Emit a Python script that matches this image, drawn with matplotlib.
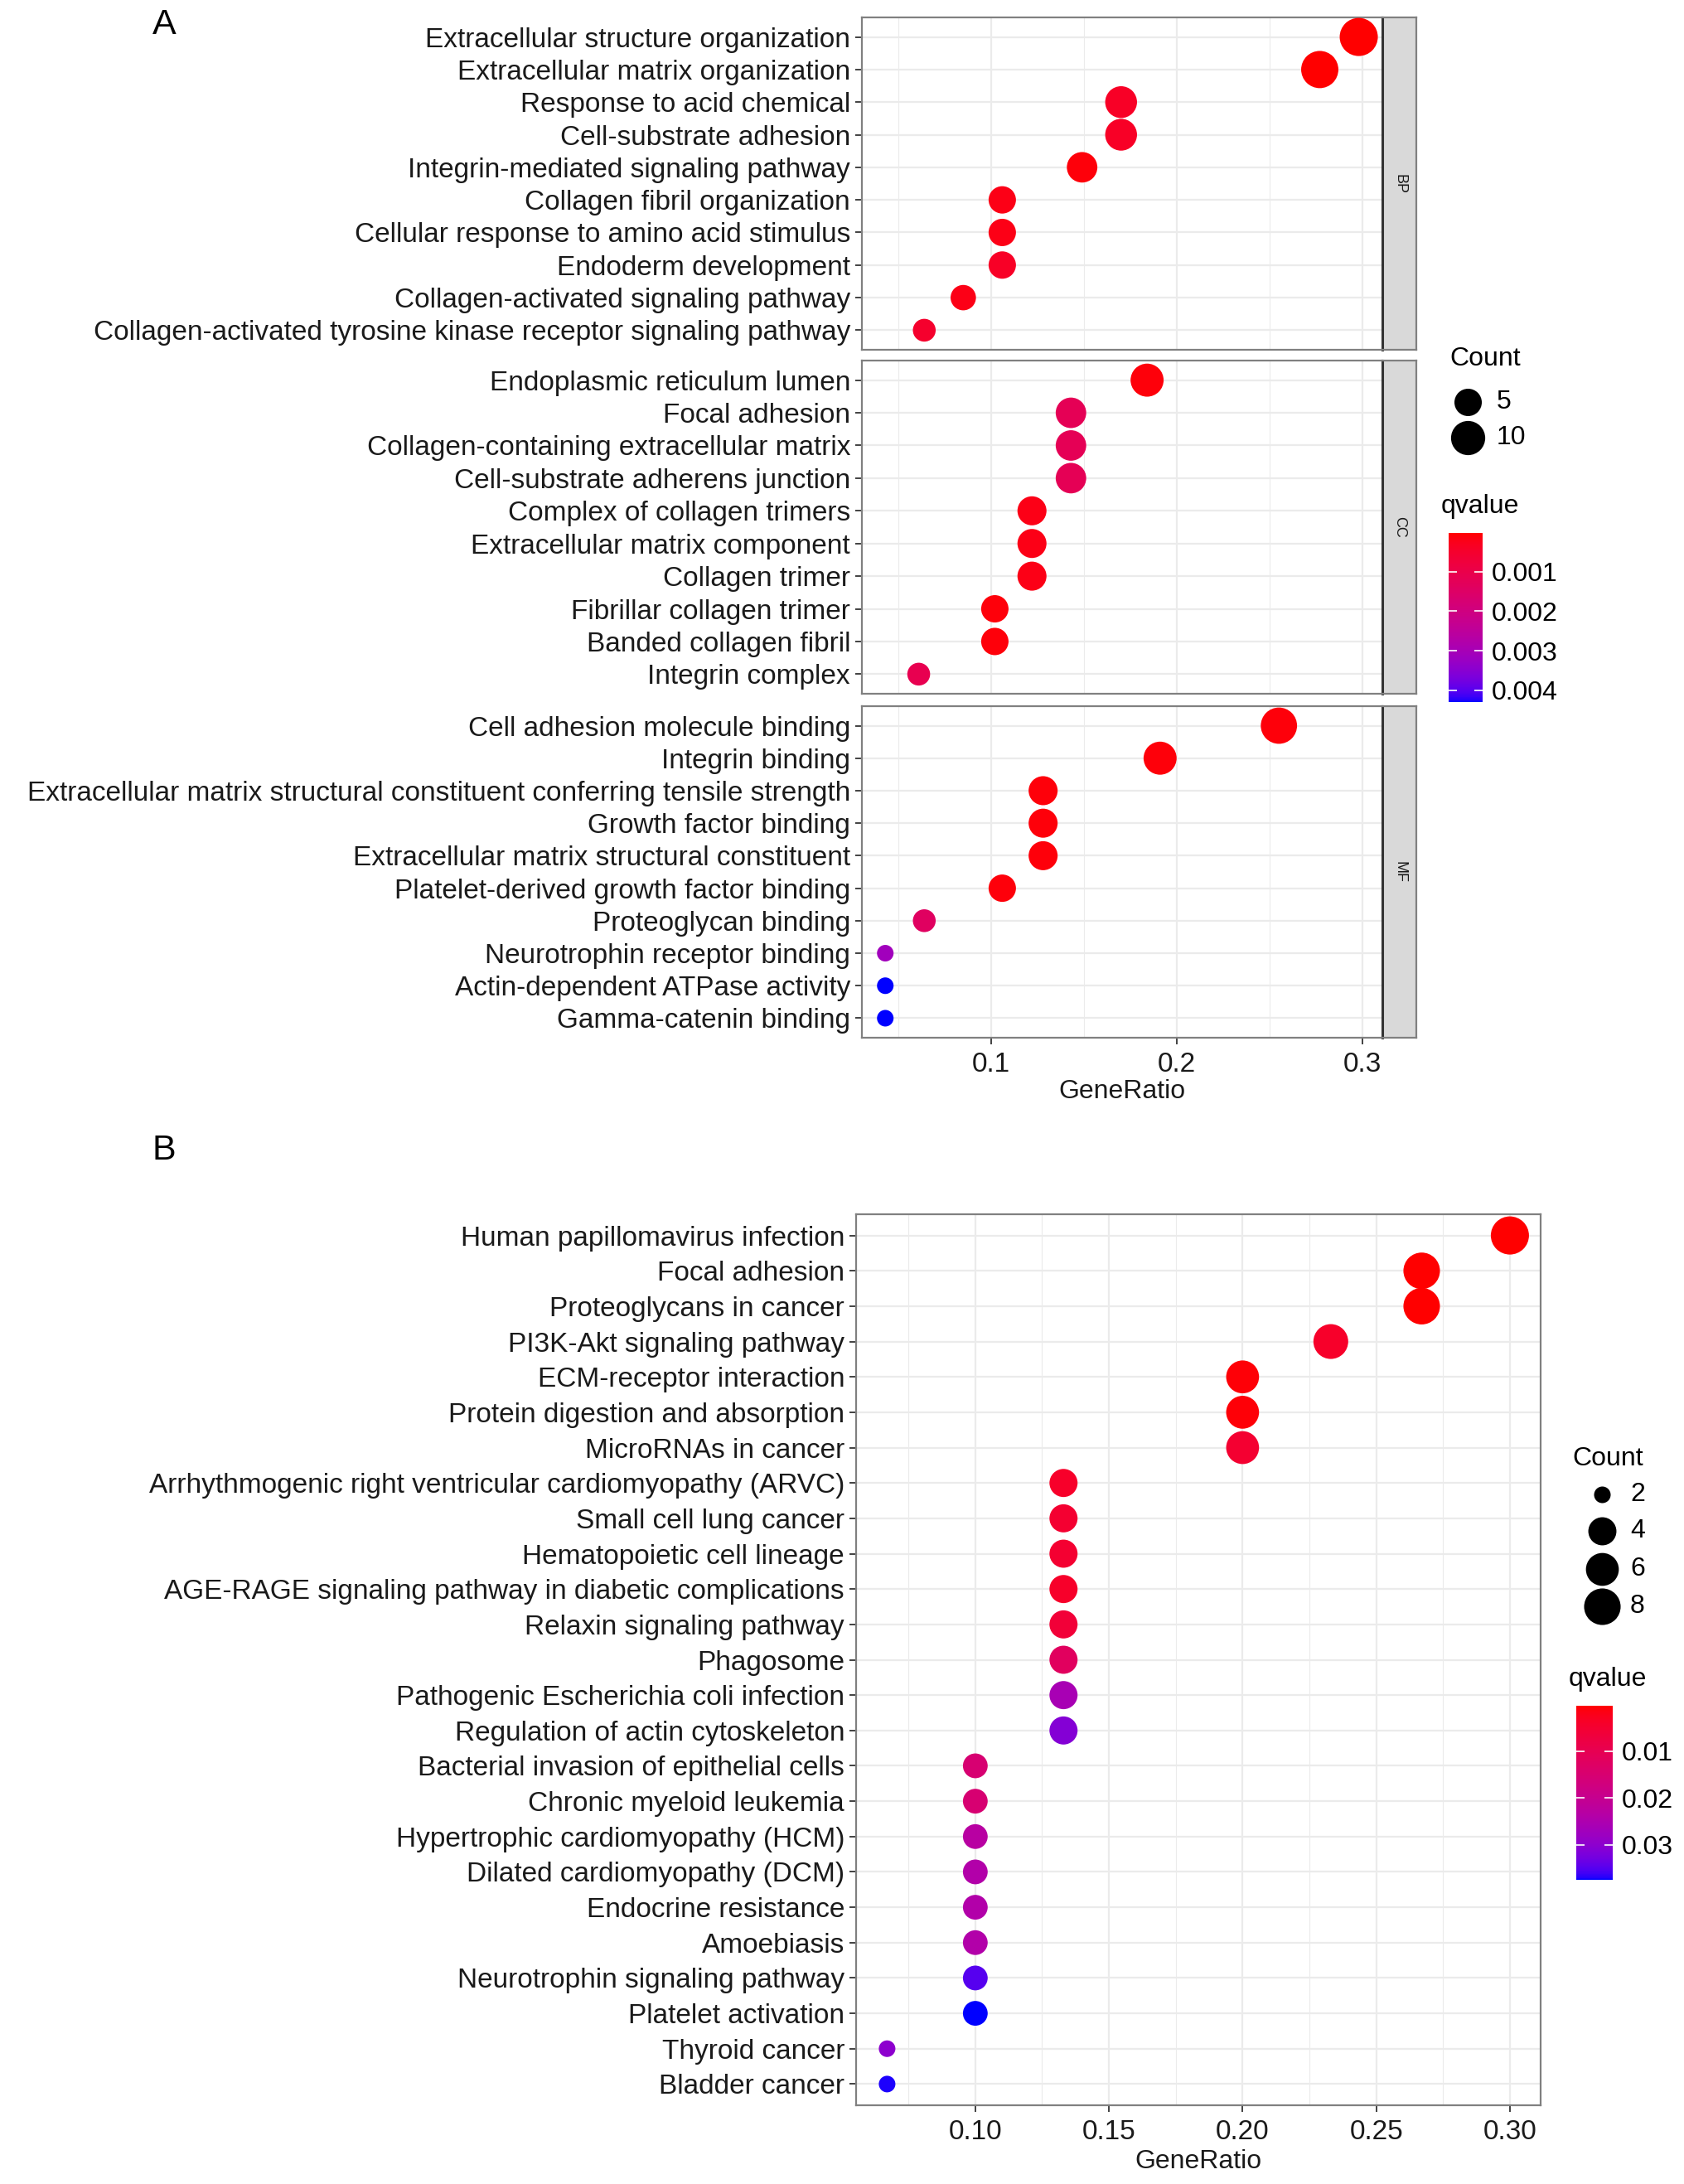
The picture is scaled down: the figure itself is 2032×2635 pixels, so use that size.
import numpy as np
import matplotlib
matplotlib.use('Agg')
import matplotlib.pyplot as plt
from matplotlib.colors import ListedColormap, Normalize
import matplotlib.cm as cm

plt.rcParams['font.family'] = ['Liberation Sans', 'DejaVu Sans']

#--- panel A data (GO terms), top to bottom
bp_terms = ['Extracellular structure organization', 'Extracellular matrix organization',
            'Response to acid chemical', 'Cell-substrate adhesion',
            'Integrin-mediated signaling pathway', 'Collagen fibril organization',
            'Cellular response to amino acid stimulus', 'Endoderm development',
            'Collagen-activated signaling pathway',
            'Collagen-activated tyrosine kinase receptor signaling pathway']
bp_ratio = [0.298, 0.277, 0.170, 0.170, 0.149, 0.106, 0.106, 0.106, 0.085, 0.064]
bp_count = [14, 13, 8, 8, 7, 5, 5, 5, 4, 3]
bp_q = [0.00002, 0.00003, 0.0004, 0.0004, 0.0001, 0.0002, 0.0002, 0.0004, 0.0002, 0.0005]

cc_terms = ['Endoplasmic reticulum lumen', 'Focal adhesion',
            'Collagen-containing extracellular matrix', 'Cell-substrate adherens junction',
            'Complex of collagen trimers', 'Extracellular matrix component',
            'Collagen trimer', 'Fibrillar collagen trimer', 'Banded collagen fibril',
            'Integrin complex']
cc_ratio = [0.184, 0.143, 0.143, 0.143, 0.122, 0.122, 0.122, 0.102, 0.102, 0.061]
cc_count = [9, 7, 7, 7, 6, 6, 6, 5, 5, 3]
cc_q = [0.0001, 0.0012, 0.0012, 0.0012, 0.0002, 0.0002, 0.0002, 0.0001, 0.0001, 0.0011]

mf_terms = ['Cell adhesion molecule binding', 'Integrin binding',
            'Extracellular matrix structural constituent conferring tensile strength',
            'Growth factor binding', 'Extracellular matrix structural constituent',
            'Platelet-derived growth factor binding', 'Proteoglycan binding',
            'Neurotrophin receptor binding', 'Actin-dependent ATPase activity',
            'Gamma-catenin binding']
mf_ratio = [0.255, 0.191, 0.128, 0.128, 0.128, 0.106, 0.064, 0.043, 0.043, 0.043]
mf_count = [12, 9, 6, 6, 6, 5, 3, 2, 2, 2]
mf_q = [0.0001, 0.0001, 0.0001, 0.0001, 0.0001, 0.0001, 0.0014, 0.0031, 0.0043, 0.0043]

#--- panel B data (KEGG), top to bottom
kegg_terms = ['Human papillomavirus infection', 'Focal adhesion', 'Proteoglycans in cancer',
              'PI3K-Akt signaling pathway', 'ECM-receptor interaction',
              'Protein digestion and absorption', 'MicroRNAs in cancer',
              'Arrhythmogenic right ventricular cardiomyopathy (ARVC)',
              'Small cell lung cancer', 'Hematopoietic cell lineage',
              'AGE-RAGE signaling pathway in diabetic complications',
              'Relaxin signaling pathway', 'Phagosome',
              'Pathogenic Escherichia coli infection', 'Regulation of actin cytoskeleton',
              'Bacterial invasion of epithelial cells', 'Chronic myeloid leukemia',
              'Hypertrophic cardiomyopathy (HCM)', 'Dilated cardiomyopathy (DCM)',
              'Endocrine resistance', 'Amoebiasis', 'Neurotrophin signaling pathway',
              'Platelet activation', 'Thyroid cancer', 'Bladder cancer']
kegg_ratio = [0.300, 0.267, 0.267, 0.233, 0.200, 0.200, 0.200,
              0.133, 0.133, 0.133, 0.133, 0.133, 0.133, 0.133, 0.133,
              0.100, 0.100, 0.100, 0.100, 0.100, 0.100, 0.100, 0.100,
              0.067, 0.067]
kegg_count = [9, 8, 8, 7, 6, 6, 6, 4, 4, 4, 4, 4, 4, 4, 4, 3, 3, 3, 3, 3, 3, 3, 3, 2, 2]
kegg_q = [0.0003, 0.0004, 0.0004, 0.004, 0.0008, 0.0008, 0.005,
          0.004, 0.005, 0.005, 0.004, 0.006, 0.012, 0.026, 0.031,
          0.015, 0.015, 0.023, 0.024, 0.024, 0.024, 0.035, 0.0375,
          0.030, 0.0372]


#--- red -> blue gradient interpolated in Lab (like ggplot)
M_RGB = np.array([[0.4124, 0.3576, 0.1805], [0.2126, 0.7152, 0.0722], [0.0193, 0.1192, 0.9505]])
WHITE = np.array([0.95047, 1.0, 1.08883])


def srgb_to_lab(rgb):
    c = np.asarray(rgb, float)
    lin = np.where(c <= 0.04045, c / 12.92, ((c + 0.055) / 1.055) ** 2.4)
    xyz = M_RGB @ lin / WHITE
    f = np.where(xyz > 0.008856, np.cbrt(xyz), 7.787 * xyz + 16 / 116)
    return np.array([116 * f[1] - 16, 500 * (f[0] - f[1]), 200 * (f[1] - f[2])])


def lab_to_srgb(lab):
    L, a, b = lab
    fy = (L + 16) / 116
    f = np.array([fy + a / 500, fy, fy - b / 200])
    xyz = np.where(f ** 3 > 0.008856, f ** 3, (f - 16 / 116) / 7.787) * WHITE
    lin = np.clip(np.linalg.inv(M_RGB) @ xyz, 0, 1)
    return np.clip(np.where(lin <= 0.0031308, 12.92 * lin, 1.055 * lin ** (1 / 2.4) - 0.055), 0, 1)


lab_red, lab_blue = srgb_to_lab([1, 0, 0]), srgb_to_lab([0, 0, 1])
cmap = ListedColormap([lab_to_srgb(lab_red + t * (lab_blue - lab_red)) for t in np.linspace(0, 1, 256)])


def dot_size(count, cmin, cmax):
    frac = (np.asarray(count, float) - cmin) / (cmax - cmin)
    d = 5.2 * (1 + 5 * np.sqrt(frac) + 2.85)   # diameter in px
    return (d * 0.72) ** 2


W, H = 2032, 2635
fig = plt.figure(figsize=(W / 100, H / 100), dpi=100)


def px_axes(x0, y0, x1, y1):
    return fig.add_axes([x0 / W, 1 - y1 / H, (x1 - x0) / W, (y1 - y0) / H])


GRID = '#ebebeb'
BORDER = '#808080'
FS = 23
FS_Y = 24


def dot_panel(ax, terms, ratio, count, q, norm, cmin, cmax, xlim, major, minor, show_x):
    n = len(terms)
    ypos = np.arange(n, 0, -1)
    ax.scatter(ratio, ypos, s=dot_size(count, cmin, cmax), c=q, cmap=cmap, norm=norm,
               linewidths=0, zorder=3)
    ax.set_ylim(0.4, n + 0.6)
    ax.set_xlim(xlim)
    ax.set_yticks(ypos)
    ax.set_yticklabels(terms, fontsize=FS_Y, color='#1a1a1a')
    ax.set_xticks(major)
    ax.set_xticks(minor, minor=True)
    ax.grid(which='major', color=GRID, lw=1.6, zorder=0)
    ax.grid(which='minor', axis='x', color=GRID, lw=0.8, zorder=0)
    ax.set_axisbelow(True)
    for s in ax.spines.values():
        s.set_color(BORDER)
        s.set_linewidth(1.6)
    ax.tick_params(axis='y', length=6, width=1.3, color='#333333', pad=4)
    ax.tick_params(axis='x', which='minor', length=0)
    if show_x:
        ax.tick_params(axis='x', which='major', length=6, width=1.3, color='#333333',
                       labelsize=FS_Y, labelcolor='#1a1a1a', pad=6)
    else:
        ax.tick_params(axis='x', which='major', length=0, labelbottom=False)


def strip(x0, y0, x1, y1, label):
    sax = px_axes(x0, y0, x1, y1)
    sax.set_facecolor('#d9d9d9')
    sax.set_xticks([])
    sax.set_yticks([])
    for s in sax.spines.values():
        s.set_color(BORDER)
        s.set_linewidth(1.6)
    sax.spines['left'].set_color('#333333')
    sax.spines['left'].set_linewidth(2.2)
    sax.text(0.5, 0.5, label, rotation=-90, ha='center', va='center', fontsize=13, color='#1a1a1a')


#--- panel A
qA = np.array(bp_q + cc_q + mf_q)
normA = Normalize(vmin=qA.min(), vmax=qA.max())
cA = bp_count + cc_count + mf_count
cminA, cmaxA = min(cA), max(cA)
xlimA = (0.0304, 0.3107)
boxes = [(21, 422), (435, 837), (852, 1252)]
sets = [(bp_terms, bp_ratio, bp_count, bp_q, 'BP'),
        (cc_terms, cc_ratio, cc_count, cc_q, 'CC'),
        (mf_terms, mf_ratio, mf_count, mf_q, 'MF')]
for i, ((y0, y1), (terms, ratio, count, q, lab)) in enumerate(zip(boxes, sets)):
    ax = px_axes(1040, y0, 1668, y1)
    dot_panel(ax, terms, ratio, count, q, normA, cminA, cmaxA, xlimA,
              [0.1, 0.2, 0.3], [0.05, 0.15, 0.25], i == 2)
    ax.spines['right'].set_visible(False)
    strip(1668, y0, 1709, y1, lab)
    if i == 2:
        ax.set_xlabel('GeneRatio', fontsize=FS, color='#1a1a1a', labelpad=1.5)

#--- panel B
qB = np.array(kegg_q)
normB = Normalize(vmin=qB.min(), vmax=qB.max())
axB = px_axes(1033, 1465, 1859, 2540)
dot_panel(axB, kegg_terms, kegg_ratio, kegg_count, kegg_q, normB,
          min(kegg_count), max(kegg_count), (0.0554, 0.3115),
          [0.10, 0.15, 0.20, 0.25, 0.30], [0.075, 0.125, 0.175, 0.225, 0.275], True)
axB.set_xticklabels(['0.10', '0.15', '0.20', '0.25', '0.30'])
axB.set_xlabel('GeneRatio', fontsize=FS, color='#1a1a1a', labelpad=4)

#--- overlay in pixel coords for legends and panel letters
ov = fig.add_axes([0, 0, 1, 1])
ov.set_xlim(0, W)
ov.set_ylim(H, 0)
ov.axis('off')
ov.text(198, 30, 'A', fontsize=31, ha='center', va='center')
ov.text(198, 1388, 'B', fontsize=31, ha='center', va='center')

# size legends
ov.text(1749, 433, 'Count', fontsize=FS, va='center', ha='left')
for val, yy in zip([5, 10], [485, 528]):
    ov.scatter([1771], [yy], s=dot_size(val, cminA, cmaxA), color='black', linewidths=0)
    ov.text(1806, yy, str(val), fontsize=FS, va='center', ha='left')
ov.text(1739, 611, 'qvalue', fontsize=FS, va='center', ha='left')

ov.text(1897, 1760, 'Count', fontsize=FS, va='center', ha='left')
for val, yy in zip([2, 4, 6, 8], [1803, 1847, 1893, 1938]):
    ov.scatter([1933], [yy], s=dot_size(val, min(kegg_count), max(kegg_count)), color='black', linewidths=0)
    ov.text(1967, yy, str(val), fontsize=FS, va='center', ha='left')
ov.text(1893, 2026, 'qvalue', fontsize=FS, va='center', ha='left')


def colorbar(x0, y0, x1, y1, norm, ticks, labels):
    cax = px_axes(x0, y0, x1, y1)
    cb = fig.colorbar(cm.ScalarMappable(norm=norm, cmap=cmap), cax=cax, ticks=ticks)
    cb.ax.set_yticklabels(labels)
    cax.invert_yaxis()
    cb.outline.set_visible(False)
    cax.tick_params(axis='y', which='major', color='white', direction='in', length=7, width=1.2,
                    labelsize=FS, pad=8, left=True, right=True)
    cax.tick_params(axis='y', which='minor', length=0)


colorbar(1748, 643, 1789, 847, normA, [0.001, 0.002, 0.003, 0.004],
         ['0.001', '0.002', '0.003', '0.004'])
colorbar(1902, 2058, 1946, 2268, normB, [0.01, 0.02, 0.03], ['0.01', '0.02', '0.03'])

fig.savefig('out.png', dpi=100, facecolor='white')
